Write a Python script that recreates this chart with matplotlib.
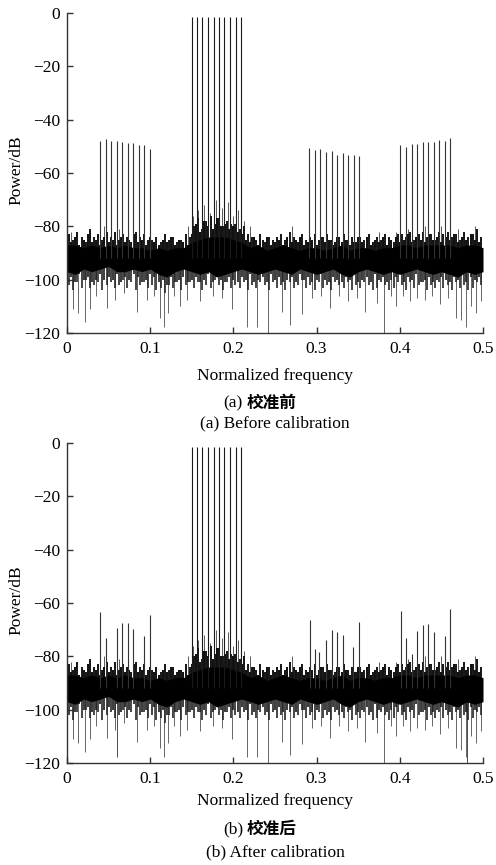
import numpy as np
import matplotlib
matplotlib.use('Agg')
import matplotlib.pyplot as plt

plt.rcParams['font.family'] = ['Liberation Serif', 'Noto Sans CJK SC']
plt.rcParams['font.size'] = 12.5

# Tone frequencies (normalized) and peak powers (dB)
main_freq = [0.1499, 0.1559, 0.1626, 0.1695, 0.1763, 0.1827, 0.1891, 0.1959, 0.2027, 0.2095]
main_pow = [-1.4] * 10

spur_freq_a = [0.0397, 0.0469, 0.0532, 0.0597, 0.0661, 0.0729, 0.0793, 0.0861, 0.0925, 0.0998,
               0.2913, 0.2977, 0.3044, 0.3113, 0.3181, 0.3245, 0.3313, 0.3377, 0.3445, 0.3510,
               0.4006, 0.4074, 0.4143, 0.4207, 0.4274, 0.4342, 0.4407, 0.4474, 0.4539, 0.4603]
spur_pow_a = [-48.0, -47.4, -48.1, -48.0, -48.4, -48.8, -48.9, -49.5, -49.3, -50.8,
              -50.6, -51.4, -51.1, -52.2, -51.8, -53.1, -52.5, -53.4, -53.1, -53.7,
              -49.6, -50.4, -49.1, -49.1, -48.4, -48.3, -48.4, -47.6, -48.1, -46.8]

spur_freq_b = [0.0400, 0.0465, 0.0597, 0.0661, 0.0730, 0.0797, 0.0929, 0.0994,
               0.2917, 0.2977, 0.3025, 0.3113, 0.3181, 0.3249, 0.3314, 0.3441, 0.3506,
               0.4011, 0.4075, 0.4143, 0.4207, 0.4275, 0.4339, 0.4407, 0.4540, 0.4607]
spur_pow_b = [-63.5, -73.2, -69.4, -67.5, -67.5, -69.8, -72.2, -64.5,
              -66.3, -77.3, -78.5, -73.9, -70.1, -70.9, -71.9, -76.4, -67.2,
              -63.0, -73.1, -79.0, -70.5, -68.3, -67.8, -70.9, -72.4, -62.3]

# Noise floor: dense core band read every 0.01
noise_freq = [i / 100 for i in range(51)]
core_hi = [-87, -87, -88, -87, -88, -87, -88, -87, -88, -88,
           -89, -88, -89, -88, -88, -86, -85, -84, -84, -84,
           -85, -86, -88, -87, -89, -88, -87, -88, -89, -88,
           -88, -89, -88, -87, -89, -88, -88, -89, -88, -88,
           -87, -87, -88, -87, -87, -87, -87, -88, -87, -87, -88]
core_lo = [-97, -98, -96, -97, -96, -95, -97, -97, -96, -97,
           -96, -98, -99, -97, -96, -97, -98, -97, -99, -98,
           -97, -96, -97, -98, -97, -96, -97, -98, -96, -97,
           -98, -97, -96, -98, -99, -97, -96, -97, -98, -97,
           -98, -97, -96, -97, -98, -97, -98, -99, -97, -98, -97]

# Dense noise lines: tops and bottoms read every 0.005, two interleaved sets
fine_freq = [0.0025 + 0.005 * i for i in range(100)]
fine_top = [-83, -85, -82, -84, -86, -81, -84, -83, -85, -82,
            -84, -82, -85, -83, -84, -86, -82, -84, -83, -85,
            -85, -84, -86, -83, -85, -84, -86, -85, -83, -84,
            -80, -77, -81, -78, -76, -79, -77, -80, -78, -79,
            -79, -81, -80, -83, -84, -85, -83, -86, -84, -85,
            -84, -83, -85, -82, -84, -86, -83, -85, -84, -83,
            -85, -84, -83, -85, -86, -84, -83, -85, -84, -86,
            -84, -85, -83, -86, -84, -85, -83, -84, -86, -83,
            -83, -84, -82, -85, -83, -82, -84, -83, -85, -82,
            -83, -82, -84, -83, -85, -82, -84, -83, -81, -84]
fine_bottom = [-102, -104, -101, -103, -100, -103, -102, -101, -104, -102,
               -101, -103, -102, -100, -103, -101, -104, -102, -101, -103,
               -102, -104, -103, -105, -102, -103, -101, -104, -102, -101,
               -103, -101, -104, -102, -103, -100, -102, -104, -101, -103,
               -102, -103, -101, -104, -102, -103, -101, -102, -104, -101,
               -103, -102, -104, -101, -103, -102, -100, -103, -102, -104,
               -101, -103, -102, -104, -101, -102, -103, -101, -104, -102,
               -103, -101, -102, -104, -103, -101, -102, -104, -103, -101,
               -102, -104, -101, -103, -102, -101, -104, -102, -103, -101,
               -103, -102, -104, -101, -103, -102, -104, -103, -101, -102]
fine_freq2 = [0.005 * i for i in range(1, 100)]
fine_top2 = [-86, -84, -87, -85, -83, -86, -85, -87, -84, -86,
             -85, -87, -84, -86, -85, -83, -86, -85, -87, -84,
             -86, -87, -85, -86, -84, -87, -85, -86, -87, -83,
             -79, -82, -78, -80, -81, -77, -80, -79, -81, -80,
             -82, -83, -85, -86, -84, -87, -85, -84, -87, -86,
             -85, -87, -84, -86, -85, -84, -87, -86, -85, -87,
             -84, -86, -85, -87, -84, -86, -85, -87, -86, -84,
             -86, -84, -87, -85, -86, -84, -87, -85, -84, -86,
             -85, -83, -86, -84, -85, -86, -83, -85, -84, -86,
             -84, -85, -83, -86, -84, -85, -83, -85, -86]
fine_bottom2 = [-99, -101, -98, -100, -99, -101, -100, -98, -100, -99,
                -100, -98, -101, -99, -100, -98, -99, -101, -100, -98,
                -99, -101, -100, -102, -99, -101, -100, -99, -101, -100,
                -99, -101, -100, -98, -101, -99, -100, -101, -99, -100,
                -101, -99, -100, -98, -101, -100, -99, -101, -98, -100,
                -99, -101, -100, -99, -101, -98, -100, -99, -101, -100,
                -98, -100, -101, -99, -100, -101, -99, -100, -98, -101,
                -100, -99, -101, -98, -100, -99, -101, -100, -99, -98,
                -101, -99, -100, -98, -101, -100, -99, -101, -100, -99,
                -100, -101, -99, -100, -98, -101, -99, -100, -99]

# Deeper downward excursions of the noise (freq, dB)
dip_freq = [0.007, 0.0136, 0.0216, 0.0276, 0.035, 0.0477, 0.0577, 0.068, 0.0837, 0.0958,
            0.104, 0.1118, 0.117, 0.1218, 0.128, 0.136, 0.1438, 0.16, 0.1755, 0.186,
            0.198, 0.216, 0.228, 0.2420, 0.258, 0.268, 0.282, 0.295, 0.305, 0.316,
            0.327, 0.338, 0.348, 0.358, 0.372, 0.381, 0.389, 0.396, 0.404, 0.412,
            0.421, 0.430, 0.439, 0.448, 0.458, 0.468, 0.474, 0.480, 0.486, 0.492, 0.498]
dip_pow = [-111, -112.5, -116, -111, -106, -110.7, -107.6, -105, -112, -107.6,
           -106, -114.4, -117.6, -112.5, -106, -110, -107.6, -108, -106, -107,
           -111, -117.6, -117.6, -120, -112, -117, -113, -107, -106, -110.7,
           -106, -108, -107, -112, -108.9, -120, -106, -110, -106, -108,
           -107, -107.6, -106, -109, -107, -114.4, -115, -117.6, -110, -112.6, -108]

# Taller upward excursions of the noise (freq, dB)
peak_freq = [0.005, 0.028, 0.045, 0.063, 0.145, 0.152, 0.158, 0.165, 0.172,
             0.179, 0.186, 0.193, 0.199, 0.206, 0.213, 0.220, 0.270, 0.375,
             0.395, 0.410, 0.430, 0.450, 0.470, 0.490]
peak_pow = [-82, -81, -80, -81, -80, -76, -74, -72, -75,
            -70, -73, -71, -76, -74, -78, -80, -80, -82,
            -82, -81, -80, -80, -81, -80]

# Extra deep dips only in (b)
extra_dip_freq_b = [0.0597, 0.4804]
extra_dip_pow_b = [-117.6, -120]

NOISE_MID = -92

panels = [
    (spur_freq_a, spur_pow_a, [], [], 0.6150),
    (spur_freq_b, spur_pow_b, extra_dip_freq_b, extra_dip_pow_b, 0.11792),
]

fig = plt.figure(figsize=(4.96, 8.65), dpi=100)

for sf, sp, ef, ep, bottom in panels:
    ax = fig.add_axes([0.1351, bottom, 0.8387, 0.3699])
    ax.vlines(dip_freq, NOISE_MID, dip_pow, color='0.4', lw=0.7, zorder=2)
    if ef:
        ax.vlines(ef, NOISE_MID, ep, color='0.3', lw=0.7, zorder=2)
    ax.vlines(peak_freq, NOISE_MID, peak_pow, color='0.35', lw=0.7, zorder=2)
    ax.vlines(fine_freq, NOISE_MID, fine_top, color='0.08', lw=1.4, zorder=2)
    ax.vlines(fine_freq, NOISE_MID, fine_bottom, color='0.15', lw=1.2, zorder=2)
    ax.vlines(fine_freq2, NOISE_MID, fine_top2, color='0.05', lw=1.4, zorder=2)
    ax.vlines(fine_freq2, NOISE_MID, fine_bottom2, color='0.1', lw=1.2, zorder=2)
    ax.fill_between(noise_freq, core_lo, core_hi, color='black', lw=0, zorder=3)
    ax.vlines(sf, NOISE_MID, sp, color='0.2', lw=0.8, zorder=4)
    ax.vlines(main_freq, NOISE_MID, main_pow, color='0.1', lw=0.8, zorder=4)

    ax.set_xlim(0, 0.5)
    ax.set_ylim(-120, 0)
    ax.set_xticks([0, 0.1, 0.2, 0.3, 0.4, 0.5])
    ax.set_xticklabels(['0', '0.1', '0.2', '0.3', '0.4', '0.5'])
    ax.set_yticks([0, -20, -40, -60, -80, -100, -120])
    ax.spines['top'].set_visible(False)
    ax.spines['right'].set_visible(False)
    for s in ['left', 'bottom']:
        ax.spines[s].set_linewidth(1.0)
        ax.spines[s].set_color('0.2')
        ax.spines[s].set_zorder(5)
    ax.tick_params(direction='in', length=4, width=1.0, color='0.2', labelsize=12.5)
    ax.tick_params(axis='x', pad=6)
    ax.tick_params(axis='y', pad=5)

def ftext(x, y, s, ha='center', **kw):
    fig.text(x / 496, 1 - y / 865, s, ha=ha, va='center', **kw)

ftext(16, 170, 'Power/dB', rotation=90)
ftext(16, 600, 'Power/dB', rotation=90)
ftext(275, 376, 'Normalized frequency')
ftext(243, 403, '(a)', ha='right')
ftext(247, 403, '校准前', ha='left', family='Noto Sans CJK SC', weight='bold', size=12)
ftext(275, 423, '(a) Before calibration')
ftext(275, 801, 'Normalized frequency')
ftext(243, 829, '(b)', ha='right')
ftext(247, 829, '校准后', ha='left', family='Noto Sans CJK SC', weight='bold', size=12)
ftext(275, 852, '(b) After calibration')

fig.savefig('out.png', dpi=100)
